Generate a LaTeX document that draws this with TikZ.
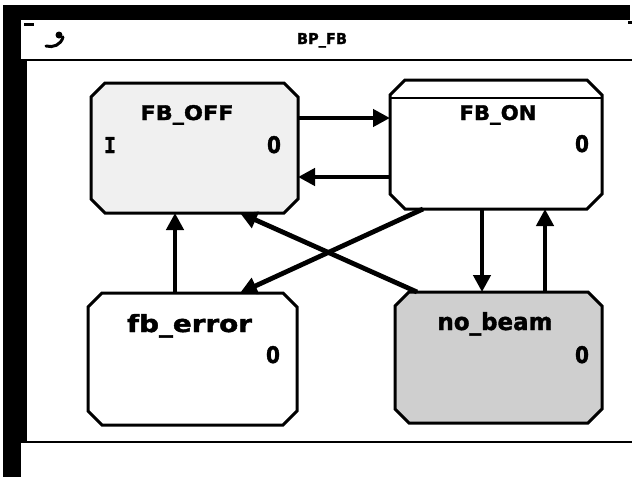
\documentclass[tikz,border=0pt]{standalone}
\usepackage{fontspec}
\setmainfont{DejaVu Sans}[BoldFeatures={FakeBold=1.6}]
\newfontfamily\monof{DejaVu Sans Mono}[BoldFeatures={FakeBold=1.6}]
\usetikzlibrary{arrows.meta,calc}
\newcommand{\octpath}[2]{%
  ($(#1.north west)+(#2,0)$) -- ($(#1.north east)+(-#2,0)$) --
  ($(#1.north east)+(0,#2)$) -- ($(#1.south east)+(0,-#2)$) --
  ($(#1.south east)+(-#2,0)$) -- ($(#1.south west)+(#2,0)$) --
  ($(#1.south west)+(0,-#2)$) -- ($(#1.north west)+(0,#2)$) -- cycle}
\begin{document}
\begin{tikzpicture}[x=1pt,y=-1pt,
  anchorbox/.style={rectangle, inner sep=0pt, outer sep=0pt},
  boxline/.style={draw=black, line width=3pt, line join=miter},
  lbl/.style={inner sep=0pt, anchor=base, font=\bfseries},
  arr/.style={line width=4.8pt, -{Triangle[length=17pt,width=17pt]}},
  frame/.style={fill=black}]
\useasboundingbox (0,0) rectangle (632,477);
\fill[white] (0,0) rectangle (632,477);
% window frame
\fill[frame] (3,8) rectangle (21,477);
\fill[frame] (21,60) rectangle (27,442);
\fill[frame] (3,5) rectangle (630,20);
\fill[frame] (628,21) rectangle (632,24);
\draw[line width=2.2pt] (21,60) -- (632,60);
\draw[line width=2.6pt] (21,442) -- (632,442);
\fill[white] (21,20) rectangle (37,32);
\fill[frame] (24,23) rectangle (34,26);
\draw[line width=3pt, line cap=round] (46,46) .. controls (53,48) and (61,45) .. (63,37);
\fill (59,35) circle (3.5pt);
\node[lbl] (title) at (322,44) {\resizebox{50pt}{11pt}{BP\_FB}};
% anchor nodes for the states
\node[anchorbox, minimum width=207pt, minimum height=130pt] (off) at (194.5,148) {};
\node[anchorbox, minimum width=212pt, minimum height=129pt] (on) at (496,144.5) {};
\node[anchorbox, minimum width=209pt, minimum height=132pt] (err) at (192.5,359) {};
\node[anchorbox, minimum width=207pt, minimum height=131pt] (beam) at (498.5,357.5) {};
% state outlines
\draw[boxline, fill=gray!12] \octpath{off}{14};
\draw[boxline, fill=white] \octpath{on}{15};
\draw[line width=2.2pt] ($(on.north west)+(0,18)$) -- ($(on.north east)+(0,18)$);
\draw[boxline, fill=white] \octpath{err}{14};
\draw[boxline, fill=gray!38] \octpath{beam}{14};
% labels
\node[lbl] (offT) at (187,120) {\resizebox{93pt}{15pt}{FB\_OFF}};
\node[lbl] (offI) at (110,153) {\resizebox{12pt}{16pt}{\monof\bfseries I}};
\node[lbl] (offO) at (274,153) {\resizebox{14pt}{17pt}{0}};
\node[lbl] (onT) at (498,120) {\resizebox{77pt}{15pt}{FB\_ON}};
\node[lbl] (onO) at (582,152) {\resizebox{14pt}{17pt}{0}};
\node[lbl] (errT) at (189.5,332) {\resizebox{125pt}{18pt}{fb\_error}};
\node[lbl] (errO) at (273,363) {\resizebox{14pt}{17pt}{0}};
\node[lbl] (beamT) at (495,330) {\resizebox{115pt}{18pt}{no\_beam}};
\node[lbl] (beamO) at (582,363) {\resizebox{14pt}{17pt}{0}};
% helper coordinates
\coordinate (h1) at (0,118);
\coordinate (h2) at (0,177);
\coordinate (v1) at (175,0);
\coordinate (v2) at (482,0);
\coordinate (v3) at (545,0);
\coordinate (v4) at (423,0);
\coordinate (v5) at (240,0);
\coordinate (v6) at (417,0);
% transitions
\draw[arr] (off.east |- h1) -- (on.west |- h1);
\draw[arr] (on.west |- h2) -- (off.east |- h2);
\draw[arr] (err.north -| v1) -- (off.south -| v1);
\draw[arr] (on.south -| v2) -- (beam.north -| v2);
\draw[arr] (beam.north -| v3) -- (on.south -| v3);
\draw[arr] (on.south -| v4) -- (err.north -| v5);
\draw[arr] (beam.north -| v6) -- (off.south -| v5);
\end{tikzpicture}
\end{document}
